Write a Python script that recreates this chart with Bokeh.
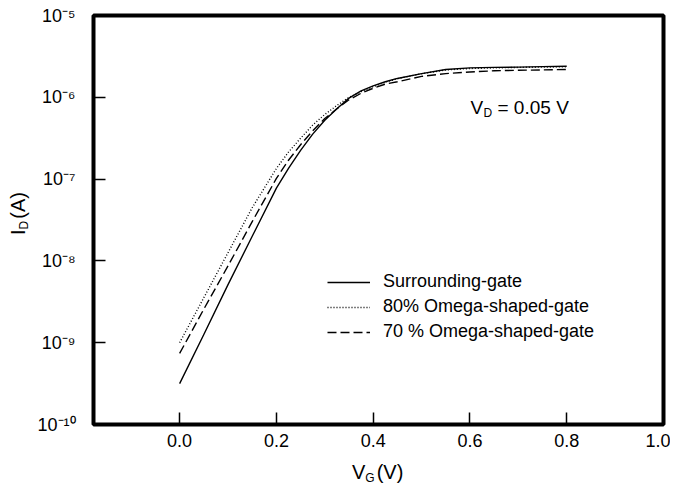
from bokeh.plotting import figure
from bokeh.models import Label, FixedTicker, CustomJSTickFormatter, Range1d, Div
from bokeh.layouts import row, column
from bokeh.embed import file_html
from bokeh.resources import INLINE

# ---- data ----
vg = [0.0, 0.05, 0.1, 0.15, 0.2, 0.225, 0.25, 0.275, 0.3, 0.325, 0.35, 0.375, 0.4,
      0.425, 0.45, 0.5, 0.55, 0.6, 0.65, 0.7, 0.75, 0.8]
id_surrounding = [3.16e-10, 1.26e-9, 5.13e-9, 2.0e-8, 7.76e-8, 1.35e-7, 2.24e-7, 3.55e-7,
                  5.25e-7, 7.24e-7, 9.77e-7, 1.20e-6, 1.38e-6, 1.55e-6, 1.70e-6, 1.95e-6,
                  2.19e-6, 2.29e-6, 2.32e-6, 2.34e-6, 2.37e-6, 2.40e-6]
id_omega80 = [1.0e-9, 3.55e-9, 1.26e-8, 4.47e-8, 1.35e-7, 2.14e-7, 3.16e-7, 4.57e-7,
              6.17e-7, 7.94e-7, 1.0e-6, 1.17e-6, 1.35e-6, 1.53e-6, 1.69e-6, 1.94e-6,
              2.16e-6, 2.25e-6, 2.29e-6, 2.32e-6, 2.34e-6, 2.36e-6]
id_omega70 = [7.4e-10, 2.57e-9, 8.7e-9, 3.02e-8, 1.02e-7, 1.70e-7, 2.63e-7, 3.89e-7,
              5.50e-7, 7.24e-7, 9.33e-7, 1.12e-6, 1.29e-6, 1.45e-6, 1.55e-6, 1.80e-6,
              1.95e-6, 2.04e-6, 2.11e-6, 2.14e-6, 2.16e-6, 2.19e-6]
series_names = ["Surrounding-gate", "80% Omega-shaped-gate", "70 % Omega-shaped-gate"]
x_ticks = [0.0, 0.2, 0.4, 0.6, 0.8, 1.0]
y_ticks = [1e-10, 1e-9, 1e-8, 1e-7, 1e-6, 1e-5]

FONT = "Liberation Sans"

p = figure(frame_width=570, frame_height=409, output_backend="svg", toolbar_location=None,
           y_axis_type="log",
           x_range=Range1d(-0.178, 1.0), y_range=Range1d(1e-10, 1e-5),
           min_border_left=59, min_border_right=7, min_border_top=15, min_border_bottom=31)
p.margin = 0

p.background_fill_color = "white"
p.border_fill_color = "white"
p.outline_line_color = "black"
p.outline_line_width = 4
p.xgrid.grid_line_color = None
p.ygrid.grid_line_color = None

p.line(vg, id_surrounding, line_color="black", line_width=1.4, legend_label=series_names[0])
p.line(vg, id_omega80, line_color="black", line_width=1.4, line_dash="1 2", legend_label=series_names[1])
p.line(vg, id_omega70, line_color="black", line_width=1.4, line_dash="9 4", legend_label=series_names[2])

for ax in (p.xaxis[0], p.yaxis[0]):
    ax.axis_line_color = None
    ax.major_tick_in = 12
    ax.major_tick_out = 0
    ax.major_tick_line_width = 1.5
    ax.major_tick_line_color = "black"
    ax.minor_tick_line_color = None
    ax.major_label_text_font = FONT
    ax.major_label_text_font_size = "18px"
    ax.major_label_text_color = "black"
    ax.axis_label = None

p.xaxis.ticker = FixedTicker(ticks=x_ticks)
p.xaxis.formatter = CustomJSTickFormatter(code="return tick.toFixed(1);")
p.xaxis.major_label_standoff = 9

p.yaxis.ticker = FixedTicker(ticks=y_ticks)
p.yaxis.formatter = CustomJSTickFormatter(code="""
const sup = {'-':'\u207b','0':'\u2070','1':'\u00b9','2':'\u00b2','3':'\u00b3','4':'\u2074',
             '5':'\u2075','6':'\u2076','7':'\u2077','8':'\u2078','9':'\u2079'};
const e = Math.round(Math.log10(tick));
return '10' + String(e).split('').map(c => sup[c]).join('');
""")
p.yaxis.major_label_standoff = 18

# legend
lg = p.legend[0]
lg.location = (234, 82)
lg.background_fill_alpha = 0
lg.border_line_color = None
lg.padding = 0
lg.margin = 0
lg.spacing = 4
lg.glyph_width = 43
lg.glyph_height = 20
lg.label_height = 20
lg.label_standoff = 13
lg.label_text_font = FONT
lg.label_text_font_size = "18px"
lg.label_text_color = "black"

def lab(text, x, y, size="19px"):
    p.add_layout(Label(x=x, y=y, x_units="screen", y_units="screen", text=text,
                       text_font=FONT, text_font_size=size, text_color="black",
                       text_baseline="alphabetic", text_align="left"))

# V_D = 0.05 V annotation
lab("V", 377, 317)
lab("D", 390, 312, size="12px")
lab("= 0.05 V", 404, 317)

# axis titles with subscripts (HTML text)
font_css = f"font-family:'{FONT}';font-size:20px;line-height:20px;color:black;white-space:nowrap;"
sub_css = "font-size:12px;position:relative;top:3px;"
ydiv = Div(width=34, height=485, margin=0, text=(
    '<div style="position:relative;width:34px;height:485px;">'
    f'<div style="position:absolute;left:8px;top:235px;transform:rotate(-90deg);'
    f'transform-origin:0 0;{font_css}">I<span style="{sub_css}">D</span>'
    '<span style="padding-left:2px;">(A)</span></div></div>'))
xdiv = Div(width=636, height=30, margin=0, text=(
    '<div style="position:relative;width:636px;height:30px;">'
    f'<div style="position:absolute;left:318px;top:7px;{font_css}">V'
    f'<span style="{sub_css}">G</span><span style="padding-left:2px;">(V)</span></div></div>'))

layout = row(ydiv, column(p, xdiv, spacing=0), spacing=0)

open("out.html", "w").write(file_html(layout, INLINE))
